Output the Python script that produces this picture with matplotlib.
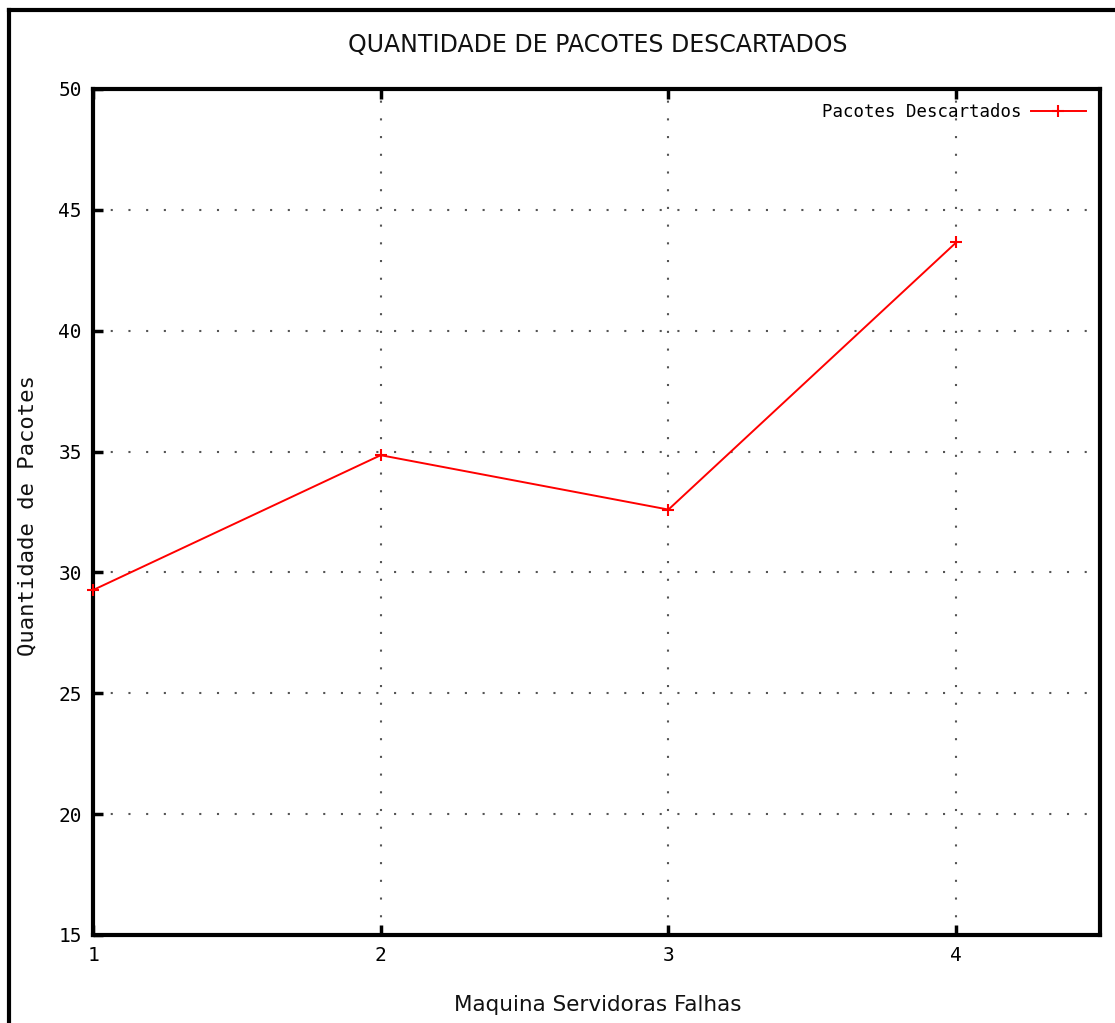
import matplotlib
matplotlib.use("Agg")
import matplotlib.pyplot as plt
from matplotlib.lines import Line2D

machines = [1, 2, 3, 4]
dropped = [29.27, 34.85, 32.6, 43.65]
xticks = [1, 2, 3, 4]
yticks = [15, 20, 25, 30, 35, 40, 45, 50]

W, H = 1115, 1023
fig = plt.figure(figsize=(W/100, H/100), dpi=100)
plt.rcParams['font.family'] = ['DejaVu Sans Mono']

left, right, top, bottom = 93, 1100, 89, 935
ax = fig.add_axes([left/W, 1 - bottom/H, (right-left)/W, (bottom-top)/H])
ax.plot(machines, dropped, color='red', lw=1.4, marker='+', ms=8, mew=1.5,
        label='Pacotes Descartados', clip_on=False, zorder=3)
ax.set_xlim(1, 4.5)
ax.set_ylim(15, 50)
ax.set_xticks(xticks)
ax.set_yticks(yticks)
ax.tick_params(direction='in', length=7, width=2.5, labelsize=14, pad=8,
               top=True, right=False)
for s in ax.spines.values():
    s.set_linewidth(3)
ax.grid(True, linestyle=(0, (1, 7.5)), color='#555555', lw=1.5)

fig.text(598/W, 1 - 45/H, 'QUANTIDADE DE PACOTES DESCARTADOS', ha='center', va='center',
         fontsize=17, family='DejaVu Sans', color='#111111')
fig.text(598/W, 1 - 1005/H, 'Maquina Servidoras Falhas', ha='center', va='center',
         fontsize=15.5, family='DejaVu Sans', color='#111111')
fig.text(27/W, 1 - 516/H, 'Quantidade de Pacotes', ha='center', va='center',
         rotation=90, fontsize=16, color='#111111')

leg = ax.legend(loc='upper right', frameon=False, markerfirst=False, fontsize=12.5,
                handlelength=3.2, borderaxespad=0.4, handletextpad=0.5)

fig.add_artist(Line2D([9/W, 9/W], [0, 1 - 10/H], color='black', lw=3))
fig.add_artist(Line2D([9/W, 1], [1 - 10/H, 1 - 10/H], color='black', lw=3))

fig.savefig('out.png', dpi=100)
